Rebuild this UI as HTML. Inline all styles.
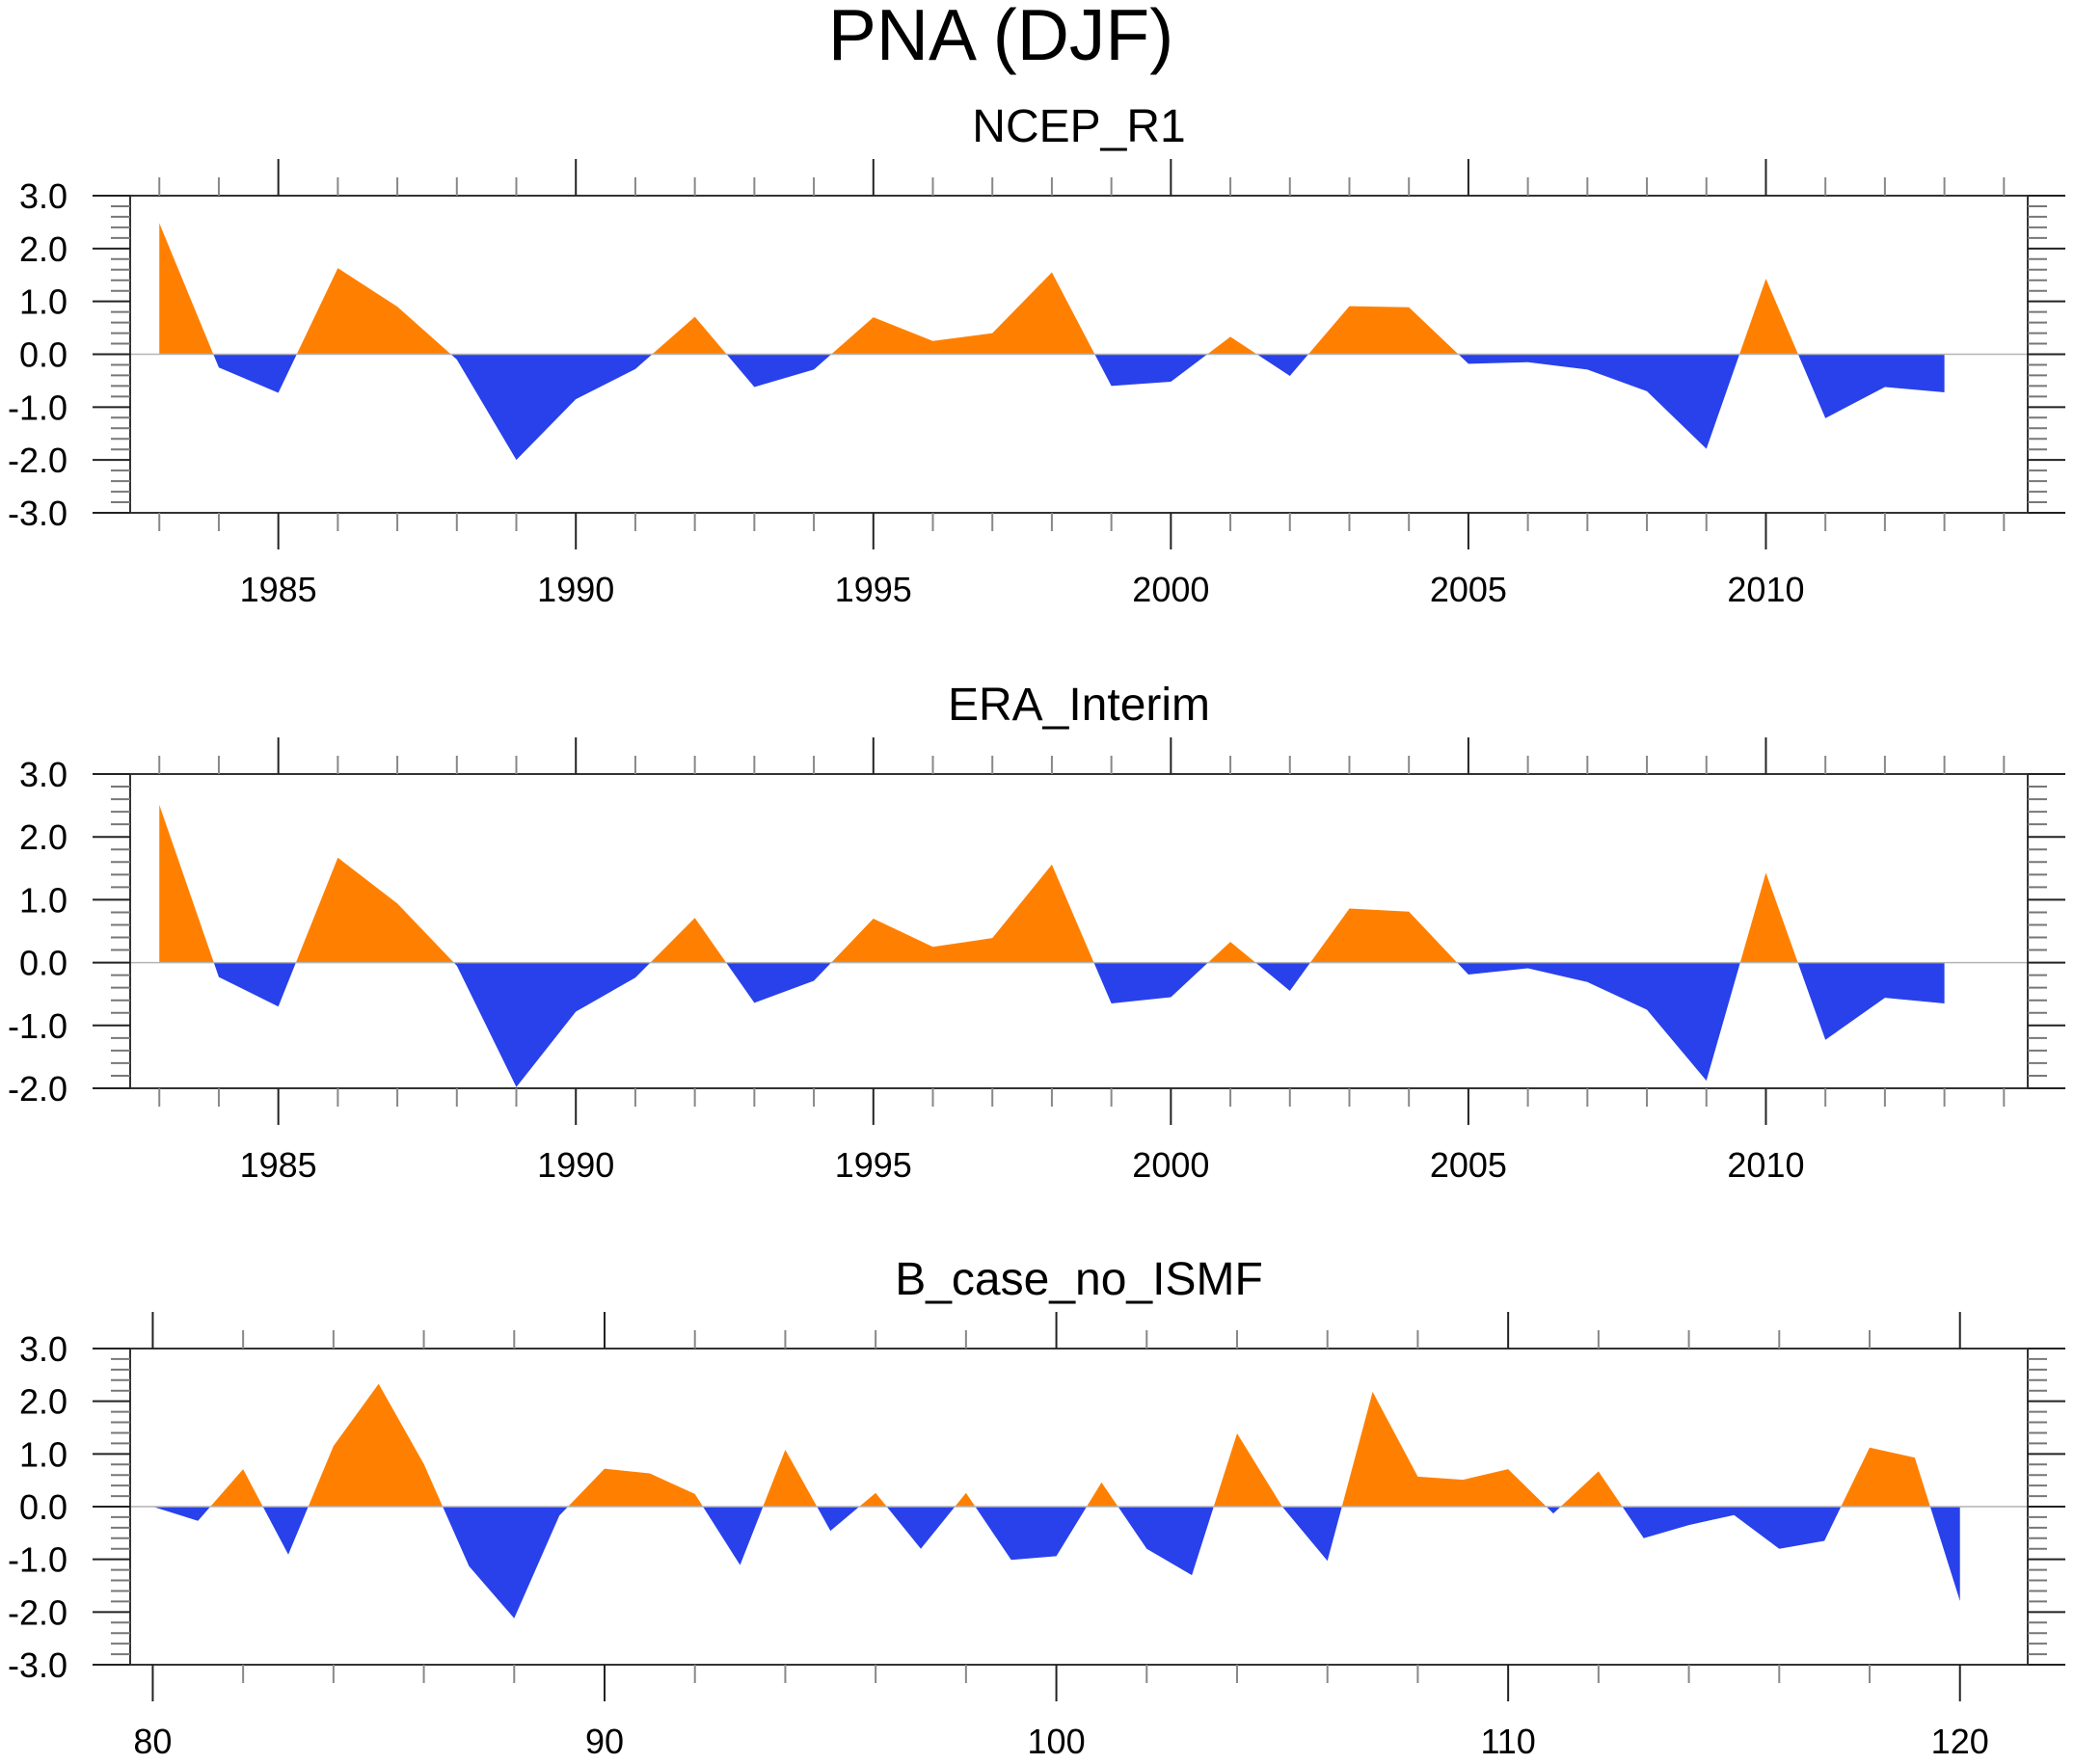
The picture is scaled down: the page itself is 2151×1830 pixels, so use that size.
<!DOCTYPE html>
<html><head><meta charset="utf-8"><style>
html,body{margin:0;padding:0;background:#fff;}
svg{display:block;font-family:"Liberation Sans",Arial,sans-serif;}
</style></head><body>
<svg id="fig" width="2151" height="1830" viewBox="0 0 2151 1830" xmlns="http://www.w3.org/2000/svg">
<text x="1038" y="62" font-size="75" text-anchor="middle">PNA (DJF)</text>
</svg>
<script>
// Panel 1: NCEP_R1
const years = [1983,1984,1985,1986,1987,1988,1989,1990,1991,1992,1993,1994,1995,1996,1997,1998,1999,2000,2001,2002,2003,2004,2005,2006,2007,2008,2009,2010,2011,2012,2013];
const ncepValues = [2.48,-0.25,-0.73,1.63,0.9,-0.1,-2.0,-0.85,-0.28,0.71,-0.62,-0.29,0.7,0.25,0.4,1.55,-0.6,-0.52,0.33,-0.41,0.91,0.89,-0.18,-0.15,-0.29,-0.7,-1.79,1.43,-1.21,-0.62,-0.72];
// Panel 2: ERA_Interim
const eraValues = [2.51,-0.23,-0.7,1.67,0.94,-0.05,-1.98,-0.78,-0.24,0.71,-0.64,-0.29,0.7,0.25,0.39,1.56,-0.65,-0.55,0.33,-0.45,0.86,0.81,-0.19,-0.09,-0.31,-0.75,-1.88,1.43,-1.23,-0.56,-0.65];
// Panel 3: B_case_no_ISMF
const modelYears = [80,81,82,83,84,85,86,87,88,89,90,91,92,93,94,95,96,97,98,99,100,101,102,103,104,105,106,107,108,109,110,111,112,113,114,115,116,117,118,119,120];
const modelValues = [0.0,-0.27,0.71,-0.91,1.15,2.33,0.81,-1.13,-2.12,-0.17,0.72,0.63,0.24,-1.11,1.08,-0.46,0.26,-0.8,0.26,-1.01,-0.94,0.46,-0.8,-1.3,1.39,0.0,-1.03,2.18,0.57,0.51,0.71,-0.13,0.67,-0.6,-0.35,-0.16,-0.8,-0.65,1.12,0.93,-1.79];
const yearTickLabels = ["1985","1990","1995","2000","2005","2010"];
const modelTickLabels = ["80","90","100","110","120"];
const yTicks3 = [-3,-2,-1,0,1,2,3];
const yTicks2 = [-2,-1,0,1,2,3];

const NS="http://www.w3.org/2000/svg";
const svg=document.getElementById('fig');
function el(tag,attrs,parent){const e=document.createElementNS(NS,tag);for(const k in attrs)e.setAttribute(k,attrs[k]);(parent||svg).appendChild(e);return e;}

function panel(cfg){
  const g=el('g',{});
  
  
  const L=135,R=2103,T=cfg.top,B=cfg.bottom;
  const sx=v=>L+(v-cfg.xmin)/(cfg.xmax-cfg.xmin)*(R-L);
  const sy=v=>B-(v-cfg.ymin)/(cfg.ymax-cfg.ymin)*(B-T);
  const t=el('text',{x:(L+R)/2,y:T-56,'font-size':48,'text-anchor':'middle'},g);
  t.textContent=cfg.title;
  
  
  const id=cfg.name;
  const z=sy(0);
  const defs=el('defs',{},g);
  const cp1=el('clipPath',{id:id+'-pos'},defs);el('rect',{x:0,y:0,width:2151,height:z},cp1);
  const cp2=el('clipPath',{id:id+'-neg'},defs);el('rect',{x:0,y:z,width:2151,height:2000},cp2);
  let d='M'+sx(cfg.xs[0])+','+z;
  cfg.xs.forEach((x,i)=>{d+=' L'+sx(x)+','+sy(cfg.ys[i]);});
  d+=' L'+sx(cfg.xs[cfg.xs.length-1])+','+z+' Z';
  const pos=el('path',{d:d,fill:'#FF8000','clip-path':'url(#'+id+'-pos)'},g);
  
  
  const neg=el('path',{d:d,fill:'#2841EB','clip-path':'url(#'+id+'-neg)'},g);
  
  
  const zl=el('line',{x1:L,x2:R,y1:z,y2:z,stroke:'#b4b4b4','stroke-width':1.5},g);
  
  
  const fr=el('rect',{x:L,y:T,width:R-L,height:B-T,fill:'none',stroke:'#333','stroke-width':2},g);
  
  
  for(let v=cfg.ymin;v<=cfg.ymax+1e-6;v+=0.2){
    const major=Math.abs(v-Math.round(v))<1e-6;const y=sy(v);const len=major?39:20;
    el('line',{x1:L-len,x2:L,y1:y,y2:y,stroke:major?'#222':'#777','stroke-width':2},g);
    el('line',{x1:R,x2:R+len,y1:y,y2:y,stroke:major?'#222':'#777','stroke-width':2},g);
  }
  cfg.yTicks.forEach(v=>{
    const tx=el('text',{x:70,y:sy(v)+13,'font-size':36,'text-anchor':'end'},g);
    tx.textContent=v.toFixed(1);
    
    
  });
  for(let v=cfg.minorStart;v<=cfg.minorEnd;v+=cfg.minorStep){
    const major=(v%cfg.majorStep)===0;const x=sx(v);const len=major?38:19;
    el('line',{x1:x,x2:x,y1:T-len,y2:T,stroke:major?'#222':'#888','stroke-width':2},g);
    el('line',{x1:x,x2:x,y1:B,y2:B+len,stroke:major?'#222':'#888','stroke-width':2},g);
  }
  cfg.xLabels.forEach(s=>{
    const tx=el('text',{x:sx(+s),y:B+92,'font-size':36,'text-anchor':'middle'},g);
    tx.textContent=s;
    
    
  });
}
panel({name:'ncep-r1-panel',title:'NCEP_R1',top:203,bottom:532,xmin:1982.51,xmax:2014.4,ymin:-3,ymax:3,xs:years,ys:ncepValues,yTicks:yTicks3,minorStart:1983,minorEnd:2014,minorStep:1,majorStep:5,xLabels:yearTickLabels});
panel({name:'era-interim-panel',title:'ERA_Interim',top:803,bottom:1129,xmin:1982.51,xmax:2014.4,ymin:-2,ymax:3,xs:years,ys:eraValues,yTicks:yTicks2,minorStart:1983,minorEnd:2014,minorStep:1,majorStep:5,xLabels:yearTickLabels});
panel({name:'b-case-no-ismf-panel',title:'B_case_no_ISMF',top:1399,bottom:1727,xmin:79.5,xmax:121.5,ymin:-3,ymax:3,xs:modelYears,ys:modelValues,yTicks:yTicks3,minorStart:80,minorEnd:120,minorStep:2,majorStep:10,xLabels:modelTickLabels});
</script>
</body></html>
